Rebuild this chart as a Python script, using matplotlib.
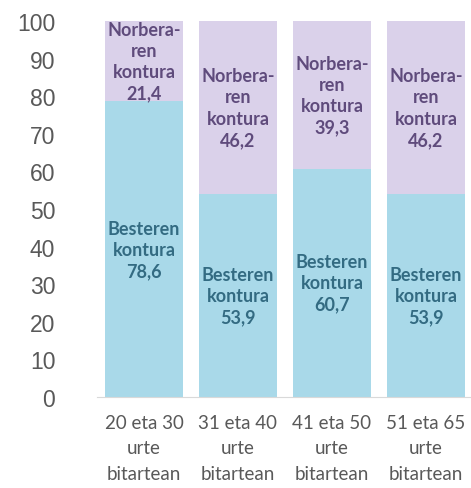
import matplotlib.pyplot as plt
import numpy as np

categories = ["20 eta 30\nurte\nbitartean", "31 eta 40\nurte\nbitartean",
              "41 eta 50\nurte\nbitartean", "51 eta 65\nurte\nbitartean"]
besteren = [78.6, 53.9, 60.7, 53.9]
norberaren = [21.4, 46.2, 39.3, 46.2]
besteren_labels = ["78,6", "53,9", "60,7", "53,9"]
norberaren_labels = ["21,4", "46,2", "39,3", "46,2"]
yticks = [0, 10, 20, 30, 40, 50, 60, 70, 80, 90, 100]

plt.rcParams["font.family"] = ["Lato", "DejaVu Sans"]

fig = plt.figure(figsize=(4.71, 4.89), dpi=100)
ax = fig.add_axes([97 / 471, 0.186, 376 / 471, 0.769])

x = np.arange(len(categories))
ax.bar(x, besteren, width=0.83, color="#a9d9e9")
ax.bar(x, norberaren, width=0.83, bottom=besteren, color="#dad1ea")

for i in range(len(categories)):
    ax.text(x[i], besteren[i] / 2, f"Besteren\nkontura\n{besteren_labels[i]}",
            ha="center", va="center", fontsize=13, fontweight="bold",
            color="#336b82", linespacing=1.3)
    ax.text(x[i], besteren[i] + norberaren[i] / 2,
            f"Norbera-\nren\nkontura\n{norberaren_labels[i]}",
            ha="center", va="center", fontsize=13, fontweight="bold",
            color="#5f4b7c", linespacing=1.3)

ax.set_xlim(-0.5, 3.5)
ax.set_ylim(0, 100)
ax.set_yticks(yticks)
ax.set_yticklabels([str(v) for v in yticks], family="Liberation Sans")
ax.set_xticks(x)
ax.set_xticklabels(categories, linespacing=1.6)
ax.tick_params(axis="both", length=0, labelsize=13.5, colors="#595959")
ax.tick_params(axis="y", pad=30, labelsize=16.5)
ax.tick_params(axis="x", pad=12)

for side in ["left", "right", "top"]:
    ax.spines[side].set_visible(False)
ax.spines["bottom"].set_color("#d9d9d9")

fig.savefig("out.png", dpi=100)
